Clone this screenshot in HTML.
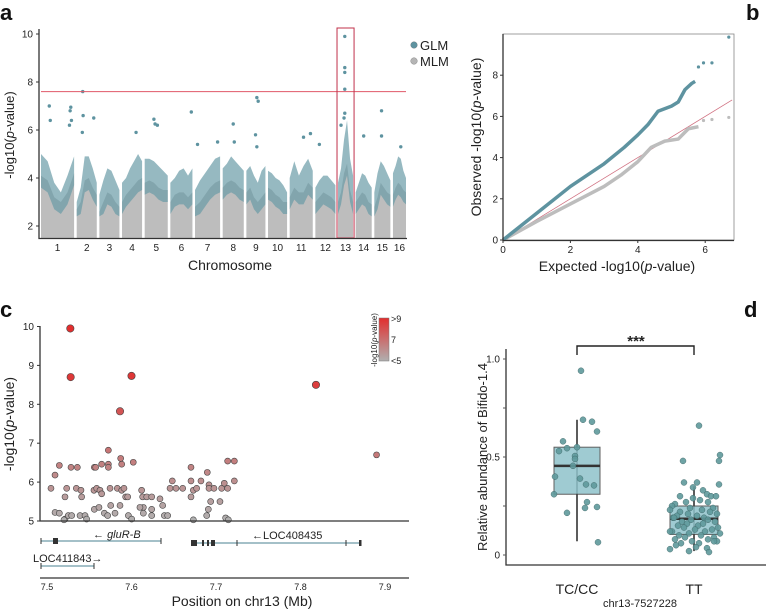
<!DOCTYPE html>
<html><head><meta charset="utf-8"><style>
html,body{margin:0;padding:0;background:#fff}
svg{display:block;font-family:"Liberation Sans",sans-serif}
</style></head><body>
<svg id="fig" width="766" height="610" viewBox="0 0 766 610" xmlns="http://www.w3.org/2000/svg">
<g id="pa"></g>
<g id="pb"></g>
<g id="pc"></g>
<g id="pd"></g>
</svg>
<script>
// ---------- Panel a data ----------
const chrNames=["1","2","3","4","5","6","7","8","9","10","11","12","13","14","15","16"];
const chrLen=[33,20,20,20,23,22,25,21,19,19,23,20,15,16,16,13];
const mlmTop=[[4.1,3.9,3.2,3.0,3.4,4.2],[2.7,3.0,3.9,4.0,3.6,3.3],[2.6,3.0,3.4,3.3,3.0,2.8],[3.0,3.3,3.5,3.7,3.9,4.0],[3.8,3.9,3.8,3.6,3.5,3.5],[3.0,3.3,3.4,3.4,3.2,3.4],[2.8,3.0,3.3,3.6,3.8,3.9],[3.6,3.8,3.9,3.8,3.6,3.5],[3.4,3.6,3.2,3.0,3.2,3.4],[3.6,3.5,3.3,3.2,3.0,3.0],[3.2,3.6,3.4,3.4,3.8,3.6],[3.0,3.2,3.4,3.3,3.2,3.0],[3.0,3.4,4.2,4.6,3.5,3.0],[3.0,3.2,3.4,3.3,3.0,2.9],[2.8,3.2,3.8,3.6,3.4,3.3],[3.3,3.6,3.8,3.7,3.5,3.4]];
const glmTop=[[5.0,4.7,3.8,3.4,4.1,4.9],[3.0,3.6,4.9,4.9,4.4,3.8],[3.3,3.9,4.4,4.3,3.9,3.5],[3.8,4.0,4.4,4.7,5.0,4.7],[4.8,4.8,4.7,4.5,4.3,4.1],[3.8,4.0,4.3,4.4,4.1,4.4],[3.5,3.9,4.2,4.5,4.8,4.9],[4.4,4.6,4.9,4.7,4.5,4.3],[4.3,4.5,4.1,3.8,4.3,4.5],[4.3,4.2,4.0,3.9,3.7,3.4],[4.0,4.7,4.1,4.5,4.8,4.3],[3.6,3.9,4.1,4.1,3.9,3.7],[3.8,4.4,5.6,6.4,4.8,4.1],[3.4,3.8,4.2,4.1,3.8,3.6],[3.4,4.2,4.7,4.5,4.2,3.9],[4.2,4.5,4.9,4.8,4.3,4.0]];
const hitChr=[0,0,0,0,0,0,1,1,1,1,3,4,4,4,5,6,6,7,7,8,8,8,8,10,10,11,12,12,12,12,12,12,12,13,14,14,15];
const hitPos=[0.25,0.28,0.9,0.88,0.92,0.86,0.3,0.32,0.85,0.28,0.7,0.4,0.45,0.55,0.95,0.1,0.9,0.5,0.55,0.55,0.62,0.48,0.55,0.6,0.9,0.2,0.45,0.45,0.45,0.45,0.45,0.4,0.2,0.5,0.45,0.45,0.6];
const hitVal=[7.0,6.4,6.95,6.8,6.4,6.2,7.6,6.6,6.5,5.9,5.9,6.45,6.25,6.2,6.75,5.4,5.5,6.25,5.5,7.35,7.2,5.8,5.3,5.7,5.85,5.4,9.9,8.6,8.4,7.7,6.7,6.5,6.2,5.75,6.8,5.75,5.3];
const threshold=7.6;
const aTicks=[2,4,6,8,10];

// ---------- Panel b data ----------
const qqGlmX=[0,1,2,3,3.6,4,4.3,4.6,5,5.2,5.4,5.6,5.7];
const qqGlmY=[0,1.3,2.6,3.7,4.5,5.1,5.6,6.25,6.5,6.7,7.3,7.6,7.7];
const qqGlmOutX=[5.8,5.95,6.2,6.7];
const qqGlmOutY=[8.4,8.6,8.6,9.85];
const qqMlmX=[0,1,2,3,3.5,4,4.4,4.8,5.2,5.5,5.8];
const qqMlmY=[0,0.9,1.75,2.6,3.15,3.8,4.5,4.8,4.9,5.4,5.5];
const qqMlmOutX=[5.95,6.2,6.7];
const qqMlmOutY=[5.8,5.85,5.95];
const bTicksX=[0,2,4,6];
const bTicksY=[0,2,4,6,8];

// ---------- Panel c data ----------
const cPos=[7.5047,7.5095,7.5146,7.5284,7.5359,7.5233,7.5347,7.5402,7.5213,7.541,7.5095,7.5146,7.5213,7.5252,7.5292,7.5391,7.5450,7.5469,7.5201,7.5560,7.5576,7.5647,7.5726,7.5726,7.5726,7.5872,7.5884,7.5556,7.5588,7.5627,7.5647,7.5746,7.5832,7.5884,7.5911,7.5931,7.5955,7.5560,7.5615,7.5679,7.5718,7.5805,7.5754,7.5864,7.5963,7.6002,7.6120,7.6132,7.6140,7.6100,7.6140,7.6180,7.6239,7.6239,7.6239,7.6337,7.6369,7.6389,7.6428,7.6456,7.6483,7.6527,7.6606,7.6704,7.6704,7.6704,7.6732,7.6732,7.6771,7.6822,7.6897,7.6909,7.6890,7.6917,7.6917,7.6937,7.6976,7.7047,7.7067,7.7098,7.7138,7.7138,7.7217,7.7217,7.7114,7.7146,7.6021,7.5276,7.5280,7.6000,7.5864,7.8183,7.8900];
const cVal=[5.84,6.18,6.43,6.38,6.38,5.84,5.84,5.79,5.62,5.62,5.22,5.2,5.05,5.14,5.14,5.14,5.14,5.05,5.03,6.38,6.38,6.46,6.82,6.46,6.38,6.61,6.46,5.79,5.84,5.79,5.7,5.84,5.84,5.79,5.84,5.62,5.62,5.3,5.35,5.2,5.14,5.2,5.4,5.4,5.14,5.05,5.79,5.62,5.35,5.35,5.2,5.62,5.62,5.3,5.14,5.57,5.4,5.14,5.14,5.84,6.03,5.84,5.84,6.38,6.03,5.62,5.79,5.03,5.84,6.03,6.25,5.3,5.14,5.93,5.84,5.5,5.84,5.5,5.84,5.97,6.54,5.84,6.54,6.03,5.08,5.03,6.51,9.95,8.7,8.73,7.82,8.5,6.7];
const cTicks=[7.5,7.6,7.7,7.8,7.9];
const cTicksY=[5,6,7,8,9,10];

// ---------- Panel d data ----------
const groups=["TC/CC","TT"];
const boxLow=[0.07,0.02];
const boxQ1=[0.31,0.105];
const boxMed=[0.455,0.185];
const boxQ3=[0.55,0.25];
const boxHigh=[0.69,0.35];
const tcVals=[0.94,0.69,0.68,0.63,0.58,0.545,0.55,0.53,0.505,0.49,0.455,0.40,0.39,0.36,0.355,0.31,0.27,0.24,0.245,0.215,0.065];
const tcJit=[4,6,15,20,-14,-10,0,-18,-2,-2,-4,-22,3,9,17,-23,10,8,20,-10,21];
const ttVals=[0.66,0.48,0.51,0.48,0.37,0.36,0.37,0.345,0.33,0.30,0.29,0.31,0.30,0.30,0.28,0.27,0.27,0.26,0.25,0.24,0.24,0.23,0.22,0.22,0.21,0.21,0.20,0.20,0.19,0.19,0.18,0.18,0.17,0.17,0.16,0.16,0.15,0.15,0.14,0.14,0.13,0.13,0.12,0.12,0.11,0.11,0.10,0.10,0.09,0.09,0.08,0.08,0.07,0.07,0.06,0.06,0.05,0.04,0.035,0.03,0.02,0.015,0.07,0.12,0.23,0.19];
const ttJit=[5,-11,26,25,-10,25,3,-1,9,-14,-1,13,17,22,6,-8,14,-19,-22,-4,19,8,-14,16,-6,23,-17,3,10,-21,-3,14,-12,21,-7,9,-16,4,24,-10,1,18,-22,11,-5,26,-15,7,20,-9,-19,14,-2,23,-13,5,-18,2,13,-24,-5,15,20,-24,-24,-20];

// ---------- helpers ----------
const NS="http://www.w3.org/2000/svg";
function mk(parent,tag,attrs,text){const e=document.createElementNS(NS,tag);for(const k in attrs)e.setAttribute(k,attrs[k]);if(text!==undefined)e.textContent=text;parent.appendChild(e);return e;}

// ---------- Panel a ----------
(function(){
const g=document.getElementById('pa');
const ay=v=>226-(v-2)*24;
const x0=41,x1=406,gap=2.6;
const total=chrLen.reduce((a,b)=>a+b,0);
const unit=(x1-x0-gap*(chrLen.length-1))/total;
let cur=x0;const starts=[];
chrLen.forEach((L,i)=>{starts.push(cur);cur+=L*unit+gap;});
const ax=(c,f)=>starts[c]+f*chrLen[c]*unit;
const bottom=ay(1.5);
chrLen.forEach((L,c)=>{
  const n=mlmTop[c].length;
  let gp=`${ax(c,0)},${bottom} `;
  const tpTop=[],tpBot=[];
  for(let k=0;k<n;k++){const f=k/(n-1);gp+=`${ax(c,f)},${ay(mlmTop[c][k])} `;tpTop.push(`${ax(c,f)},${ay(glmTop[c][k])}`);tpBot.push(`${ax(c,f)},${ay(Math.max(2.4,mlmTop[c][k]-0.5))}`);}
  gp+=`${ax(c,1)},${bottom}`;
  const pg=mk(g,'polygon',{points:gp,fill:'#bdbdbd'});
  
  
  const pt=mk(g,'polygon',{points:tpTop.join(' ')+' '+tpBot.reverse().join(' '),fill:'#6a9ba6',opacity:0.7});
  
  
  const t=mk(g,'text',{x:ax(c,0.5),y:251,'font-size':10,'text-anchor':'middle',fill:'#222'},chrNames[c]);
  
  
});
hitVal.forEach((v,i)=>{
  const d=mk(g,'circle',{cx:ax(hitChr[i],hitPos[i]),cy:ay(v),r:1.7,fill:'#5e93a0'});
  
  
});
const th=mk(g,'line',{x1:x0,x2:406,y1:ay(threshold),y2:ay(threshold),stroke:'#e05868','stroke-width':1});


const hb=mk(g,'rect',{x:ax(12,0)-1,y:28,width:chrLen[12]*unit+2,height:210,fill:'none',stroke:'#c0304a','stroke-width':1});


mk(g,'path',{d:'M39,29 V238.5 H407',fill:'none',stroke:'#333','stroke-width':1.3});
aTicks.forEach(v=>{mk(g,'line',{x1:36,x2:39,y1:ay(v),y2:ay(v),stroke:'#333'});
  const t=mk(g,'text',{x:33,y:ay(v)+3.5,'font-size':10,'text-anchor':'end',fill:'#222'},v);
  });
const yt=mk(g,'text',{transform:'translate(14,135) rotate(-90)','font-size':13,'text-anchor':'middle',fill:'#222'});
yt.innerHTML='-log10(<tspan font-style="italic">p</tspan>-value)';

const xt=mk(g,'text',{x:230,y:270,'font-size':14,'text-anchor':'middle',fill:'#222'},'Chromosome');

const lab=mk(g,'text',{x:0,y:20,'font-size':22,'font-weight':'bold',fill:'#111'},'a');

[['GLM','#5e93a0',45],['MLM','#b5b5b5',61]].forEach(([n,c,y])=>{
  const le=mk(g,'g',{});
  mk(le,'circle',{cx:414,cy:y,r:3.3,fill:c,stroke:'#777','stroke-width':0.4});
  mk(le,'text',{x:420,y:y+5,'font-size':13,fill:'#222'},n);
});
})();

// ---------- Panel b ----------
(function(){
const g=document.getElementById('pb');
const bx=v=>503+v*33.7, by=v=>240-v*20.6;
mk(g,'rect',{x:503,y:34,width:231,height:206,fill:'none',stroke:'#888','stroke-width':0.8});
const rl=mk(g,'line',{x1:bx(0),y1:by(0),x2:bx(6.8),y2:by(6.8),stroke:'#d07080','stroke-width':0.8});

const lineOf=(X,Y)=>X.map((x,i)=>`${bx(x)},${by(Y[i])}`).join(' ');
const m=mk(g,'polyline',{points:lineOf(qqMlmX,qqMlmY),fill:'none',stroke:'#bdbdbd','stroke-width':3.5,'stroke-linejoin':'round'});

qqMlmOutX.forEach((x,i)=>{const c=mk(g,'circle',{cx:bx(x),cy:by(qqMlmOutY[i]),r:1.6,fill:'#bdbdbd'});});
const l=mk(g,'polyline',{points:lineOf(qqGlmX,qqGlmY),fill:'none',stroke:'#5e93a0','stroke-width':3.5,'stroke-linejoin':'round'});

qqGlmOutX.forEach((x,i)=>{const c=mk(g,'circle',{cx:bx(x),cy:by(qqGlmOutY[i]),r:1.6,fill:'#5e93a0'});});
mk(g,'path',{d:'M503,34 V240.5 H734',fill:'none',stroke:'#333','stroke-width':1.3});
bTicksX.forEach(v=>{mk(g,'line',{x1:bx(v),x2:bx(v),y1:240,y2:243,stroke:'#333'});const t=mk(g,'text',{x:bx(v),y:253,'font-size':10,'text-anchor':'middle',fill:'#222'},v);});
bTicksY.forEach(v=>{mk(g,'line',{x1:500,x2:503,y1:by(v),y2:by(v),stroke:'#333'});const t=mk(g,'text',{x:498,y:by(v)+3.5,'font-size':10,'text-anchor':'end',fill:'#222'},v);});
const yt=mk(g,'text',{transform:'translate(481,137) rotate(-90)','font-size':14,'text-anchor':'middle',fill:'#222'});
yt.innerHTML='Observed -log10(<tspan font-style="italic">p</tspan>-value)';
const xt=mk(g,'text',{x:617,y:271,'font-size':14,'text-anchor':'middle',fill:'#222'});
xt.innerHTML='Expected -log10(<tspan font-style="italic">p</tspan>-value)';
const lab=mk(g,'text',{x:746,y:20,'font-size':22,'font-weight':'bold',fill:'#111'},'b');
})();

// ---------- Panel c ----------
(function(){
const g=document.getElementById('pc');
const cx=v=>47+(v-7.5)*845, cy=v=>521-(v-5)*38.9;
function col(v){let t=Math.max(0,Math.min(1,(v-5)/4));const a=[176,176,176],b=[226,46,46];return `rgb(${a.map((q,i)=>Math.round(q+(b[i]-q)*t)).join(',')})`;}
cPos.forEach((p,i)=>{const v=cVal[i];const c=mk(g,'circle',{cx:cx(p),cy:cy(v),r:v>7.5?3.7:3.0,fill:col(v),stroke:'#444','stroke-width':0.6});});
mk(g,'path',{d:'M40,326 V521 H409',fill:'none',stroke:'#333','stroke-width':1.3});
cTicksY.forEach(v=>{mk(g,'line',{x1:37,x2:40,y1:cy(v),y2:cy(v),stroke:'#333'});const t=mk(g,'text',{x:34,y:cy(v)+3.5,'font-size':10,'text-anchor':'end',fill:'#222'},v);});
mk(g,'line',{x1:40,x2:409,y1:578,y2:578,stroke:'#333','stroke-width':1.3});
cTicks.forEach(v=>{const t=mk(g,'text',{x:cx(v),y:590,'font-size':9,'text-anchor':'middle',fill:'#222'},v);});
const xt=mk(g,'text',{x:242,y:606,'font-size':14,'text-anchor':'middle',fill:'#222'},'Position on chr13 (Mb)');
const yt=mk(g,'text',{transform:'translate(14,424) rotate(-90)','font-size':14,'text-anchor':'middle',fill:'#222'});
yt.innerHTML='-log10(<tspan font-style="italic">p</tspan>-value)';
const lab=mk(g,'text',{x:0,y:317,'font-size':22,'font-weight':'bold',fill:'#111'},'c');
const gl='#6d9aa6';
const g1=mk(g,'g',{});
mk(g1,'line',{x1:41,x2:161,y1:541,y2:541,stroke:gl,'stroke-width':1.2});
mk(g1,'rect',{x:53,y:538,width:5,height:6,fill:'#333'});
mk(g1,'line',{x1:41,x2:41,y1:538,y2:544,stroke:'#333'});mk(g1,'line',{x1:161,x2:161,y1:538,y2:544,stroke:'#333'});
const t1=mk(g1,'text',{x:93,y:538,'font-size':11,fill:'#222'});t1.innerHTML='&#8592; <tspan font-style="italic">gluR-B</tspan>';
const g2=mk(g,'g',{});
mk(g2,'line',{x1:191,x2:361,y1:543,y2:543,stroke:gl,'stroke-width':1.2});
[[191,6],[202,2],[207,2],[211,2],[213,2]].forEach(([x,w])=>mk(g2,'rect',{x:x,y:540,width:w,height:6,fill:'#333'}));
[237,346].forEach(x=>mk(g2,'line',{x1:x,x2:x,y1:540,y2:546,stroke:'#333'}));
mk(g2,'rect',{x:359,y:540,width:2.5,height:6,fill:'#333'});
mk(g2,'text',{x:252,y:539,'font-size':11,fill:'#222'},'\u2190LOC408435');
const g3=mk(g,'g',{});
mk(g3,'line',{x1:41,x2:94,y1:566,y2:566,stroke:gl,'stroke-width':1.2});
mk(g3,'line',{x1:41,x2:41,y1:563,y2:569,stroke:'#333'});mk(g3,'line',{x1:94,x2:94,y1:563,y2:569,stroke:'#333'});
mk(g3,'text',{x:33,y:562,'font-size':11,fill:'#222'},'LOC411843\u2192');
const defs=mk(g,'defs',{});const lg=mk(defs,'linearGradient',{id:'cb',x1:0,y1:0,x2:0,y2:1});
mk(lg,'stop',{offset:'0','stop-color':'#e22e2e'});mk(lg,'stop',{offset:'1','stop-color':'#b0b0b0'});
const cb=mk(g,'rect',{x:379,y:318,width:10,height:43,fill:'url(#cb)',stroke:'#777','stroke-width':0.5});
[['>9',322],['7',343],['<5',364]].forEach(([s,y])=>{const t=mk(g,'text',{x:391,y:y,'font-size':9,fill:'#222'},s);});
const ct=mk(g,'text',{transform:'translate(377,340) rotate(-90)','font-size':8,'text-anchor':'middle',fill:'#222'});
ct.innerHTML='-log10(<tspan font-style="italic">p</tspan>-value)';
})();

// ---------- Panel d ----------
(function(){
const g=document.getElementById('pd');
const dy=v=>555-v*196;const centers=[577,694];const hw=[23,24];
groups.forEach((n,i)=>{
  const c=centers[i];
  const bg=mk(g,'g',{});
  mk(bg,'line',{x1:c,x2:c,y1:dy(boxLow[i]),y2:dy(boxHigh[i]),stroke:'#333','stroke-width':1.6});
  mk(bg,'rect',{x:c-hw[i],y:dy(boxQ3[i]),width:hw[i]*2,height:dy(boxQ1[i])-dy(boxQ3[i]),fill:'#8fc3cb',opacity:0.85,stroke:'#444','stroke-width':1});
  mk(bg,'line',{x1:c-hw[i],x2:c+hw[i],y1:dy(boxMed[i]),y2:dy(boxMed[i]),stroke:'#333','stroke-width':2.5});
  const t=mk(g,'text',{x:c,y:594,'font-size':14,'text-anchor':'middle',fill:'#222'},n);
});
tcVals.forEach((v,i)=>{const c=mk(g,'circle',{cx:centers[0]+tcJit[i],cy:dy(v),r:3,fill:'#5f9a9c',stroke:'#3d6667','stroke-width':0.5,opacity:0.9});});
ttVals.forEach((v,i)=>{const c=mk(g,'circle',{cx:centers[1]+ttJit[i],cy:dy(v),r:3,fill:'#5f9a9c',stroke:'#3d6667','stroke-width':0.5,opacity:0.9});});
mk(g,'path',{d:'M506,349 V565 H766',fill:'none',stroke:'#333','stroke-width':1.3});
[[1.0,'1.0'],[0.75,''],[0.5,'0.5'],[0.25,''],[0,'0']].forEach(([v,s])=>{mk(g,'line',{x1:503,x2:506,y1:dy(v),y2:dy(v),stroke:'#555'});if(s){const t=mk(g,'text',{x:500,y:dy(v)+3.5,'font-size':10,'text-anchor':'end',fill:'#222'},s);}});
const br=mk(g,'path',{d:`M${centers[0]},355 V346 H${centers[1]} V355`,fill:'none',stroke:'#222','stroke-width':1.4});
const st=mk(g,'text',{x:636,y:346,'font-size':15,'font-weight':'bold','text-anchor':'middle',fill:'#222'},'***');
const yt=mk(g,'text',{transform:'translate(487,457) rotate(-90)','font-size':13,'text-anchor':'middle',fill:'#222'},'Relative abundance of Bifido-1.4');
const xt=mk(g,'text',{x:640,y:607,'font-size':11,'text-anchor':'middle',fill:'#222'},'chr13-7527228');
const lab=mk(g,'text',{x:744,y:317,'font-size':22,'font-weight':'bold',fill:'#111'},'d');
})();
</script>
</body></html>
